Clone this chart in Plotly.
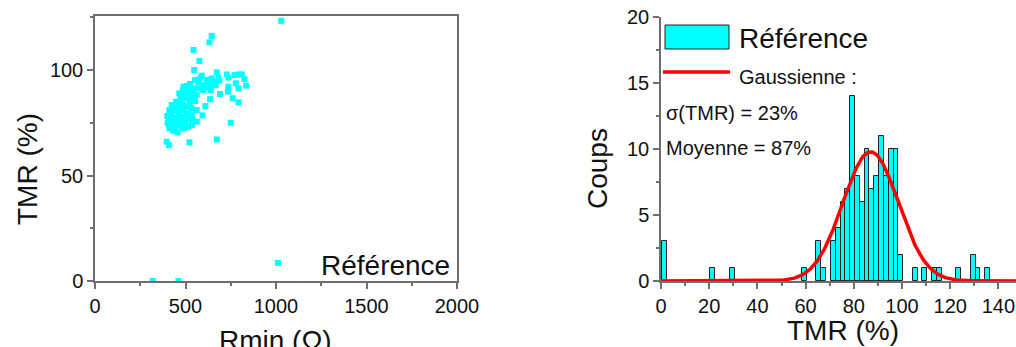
import numpy as np
import plotly.graph_objects as go

# ---------------- data ----------------
# Left panel: TMR vs Rmin scatter
rmin_ohm = [1029, 319, 461, 645, 632, 544, 577, 548, 590, 673,
            728, 771, 793, 811, 826, 835, 778, 793, 737, 737,
            734, 691, 761, 793, 636, 610, 750, 673, 594, 522,
            396, 409, 457, 618, 645, 660, 682, 686, 645, 667,
            553, 572, 627, 489, 507, 516, 544, 572, 599, 479,
            498, 516, 535, 553, 562, 470, 461, 489, 507, 525,
            535, 442, 424, 415, 406, 433, 461, 479, 516, 535,
            498, 470, 452, 420, 442, 433, 516, 535, 562, 538,
            516, 400, 402, 424, 448, 474, 492, 525, 599, 581,
            640, 433, 411, 455, 485, 507, 452, 479, 503, 525,
            544, 466, 485, 511, 411, 492, 430, 562, 618]
tmr_pct = [123.3, 0.0, 0.0, 116.1, 113.1, 109.5, 104.3, 100.0, 97.3, 98.9,
           97.9, 97.6, 97.9, 97.9, 95.7, 92.6, 93.7, 91.3, 96.4, 92.1,
           89.7, 88.6, 86.6, 84.7, 86.2, 82.9, 75.0, 67.1, 78.5, 65.7,
           66.0, 64.4, 70.4, 95.3, 96.0, 94.5, 96.4, 94.9, 93.2, 92.9,
           95.3, 94.1, 93.7, 92.1, 92.4, 90.5, 91.3, 91.3, 90.5, 88.1,
           87.3, 87.8, 86.6, 85.3, 88.1, 85.0, 82.6, 83.4, 82.6, 83.4,
           81.8, 81.0, 79.4, 77.8, 76.3, 77.1, 78.6, 77.8, 79.4, 78.6,
           75.5, 75.5, 76.3, 73.9, 73.1, 71.2, 73.1, 73.9, 75.5, 76.6,
           77.1, 78.2, 74.7, 83.4, 85.0, 87.0, 89.7, 93.4, 92.9, 96.0,
           90.5, 74.7, 81.0, 81.0, 81.0, 78.6, 73.9, 73.1, 86.6, 85.8,
           88.9, 88.9, 90.5, 89.2, 72.3, 72.3, 81.8, 81.0, 91.8]

# Right panel: histogram of TMR (bin centres, counts), bin width 2 %
bin_centres = [1.5, 21.5, 29.5, 59.5, 65.5, 67.5, 71.5, 73.5, 75.5, 77.5,
               79.5, 81.5, 83.5, 85.5, 87.5, 89.5, 91.5, 93.5, 95.5, 97.5,
               99.5, 105.5, 109.5, 113.5, 115.5, 123.5, 129.5, 131.5, 135.5]
bin_counts = [3, 1, 1, 1, 3, 1, 3, 4, 6, 7,
              14, 8, 6, 10, 7, 8, 11, 8, 10, 10,
              2, 1, 1, 1, 1, 1, 2, 1, 1]
bin_width = 2

# Gaussian fit parameters (Origin-style width w = 2*sigma)
gauss_centre = 87.0
gauss_w = 23.0
gauss_amp = 9.8

# ---------------- figure ----------------
W, H = 1016, 347
FONT = "Liberation Sans, Arial, sans-serif"
CYAN = "#00FFFF"
AXC = "#6e6e6e"
TXT = "#111111"


def fx(px):
    return px / W


def fy(py):
    return 1 - py / H


fig = go.Figure()

fig.add_trace(go.Scatter(
    x=rmin_ohm, y=tmr_pct, mode="markers",
    marker=dict(symbol="square", size=6, color=CYAN, line=dict(width=0)),
    xaxis="x", yaxis="y", showlegend=False))

fig.add_trace(go.Bar(
    x=bin_centres, y=bin_counts, width=bin_width,
    marker=dict(color=CYAN, line=dict(color="#222222", width=1)),
    xaxis="x2", yaxis="y2", showlegend=False))

xg = np.linspace(0, 150, 400)
sig = gauss_w / 2
yg = gauss_amp * np.exp(-(xg - gauss_centre) ** 2 / (2 * sig ** 2))
fig.add_trace(go.Scatter(
    x=xg, y=yg, mode="lines", line=dict(color="#FF0000", width=3.5),
    xaxis="x2", yaxis="y2", showlegend=False))

tickfont = dict(family=FONT, size=20, color=TXT)
common = dict(showline=True, linecolor=AXC, linewidth=1.5, ticks="outside",
              tickcolor=AXC, tickwidth=1.5, ticklen=6, showgrid=False,
              zeroline=False, tickfont=tickfont, automargin=False)
minor_common = dict(ticks="outside", ticklen=3, tickcolor=AXC, tickwidth=1.5,
                    showgrid=False)

fig.update_layout(
    width=W, height=H, margin=dict(l=0, r=0, t=0, b=0, autoexpand=False),
    paper_bgcolor="white", plot_bgcolor="white",
    bargap=0,
    xaxis=dict(domain=[fx(95), fx(457)], range=[0, 2000], tickmode="linear",
               tick0=0, dtick=500, mirror=True, anchor="y",
               minor=dict(dtick=250, **minor_common), **common),
    yaxis=dict(domain=[fy(281), fy(16)], range=[0, 125.6], tickmode="linear",
               tick0=0, dtick=50, mirror=True, anchor="x",
               minor=dict(dtick=25, **minor_common), **common),
    xaxis2=dict(domain=[fx(661), 1.0], range=[0, 147.3], tickmode="linear",
                tick0=0, dtick=20, anchor="y2",
                minor=dict(dtick=10, **minor_common), **common),
    yaxis2=dict(domain=[fy(281), fy(17)], range=[0, 20.02], tickmode="linear",
                tick0=0, dtick=5, anchor="x2",
                minor=dict(dtick=2.5, **minor_common), **common),
)

ann = []


def text(s, x, y, size, xanchor="left", angle=0):
    ann.append(dict(text=s, x=fx(x), y=fy(y), xref="paper", yref="paper",
                    xanchor=xanchor, yanchor="middle", showarrow=False,
                    textangle=angle,
                    font=dict(family=FONT, size=size, color=TXT)))


# axis titles
text("TMR (%)", 27, 169, 28, xanchor="center", angle=-90)
text("Rmin (Ω)", 275, 340, 28, xanchor="center")
text("Coups", 597, 169, 28, xanchor="center", angle=-90)
text("TMR (%)", 843, 330, 28, xanchor="center")

# left legend
text("Référence", 319, 265, 28)
# right legend
text("Référence", 737, 38, 28)
text("Gaussienne :", 737, 77, 20)
text("σ(TMR) = 23%", 664, 113, 20)
text("Moyenne = 87%", 664, 148, 20)

fig.update_layout(annotations=ann)

shapes = [
    # left legend symbol
    dict(type="rect", xref="paper", yref="paper",
         x0=fx(275), x1=fx(281), y0=fy(266), y1=fy(260),
         fillcolor=CYAN, line=dict(width=0)),
    # right legend bar swatch
    dict(type="rect", xref="paper", yref="paper",
         x0=fx(665), x1=fx(729), y0=fy(49), y1=fy(25),
         fillcolor=CYAN, line=dict(color="#222222", width=1)),
    # right legend gaussian line
    dict(type="line", xref="paper", yref="paper",
         x0=fx(663), x1=fx(730), y0=fy(72), y1=fy(72),
         line=dict(color="#FF0000", width=3.5)),
]
fig.update_layout(shapes=shapes)

fig.write_html(
    "out.html",
    config={"displayModeBar": False},
    post_script="document.body.style.margin='0px';"
                "document.body.style.overflow='hidden';")
